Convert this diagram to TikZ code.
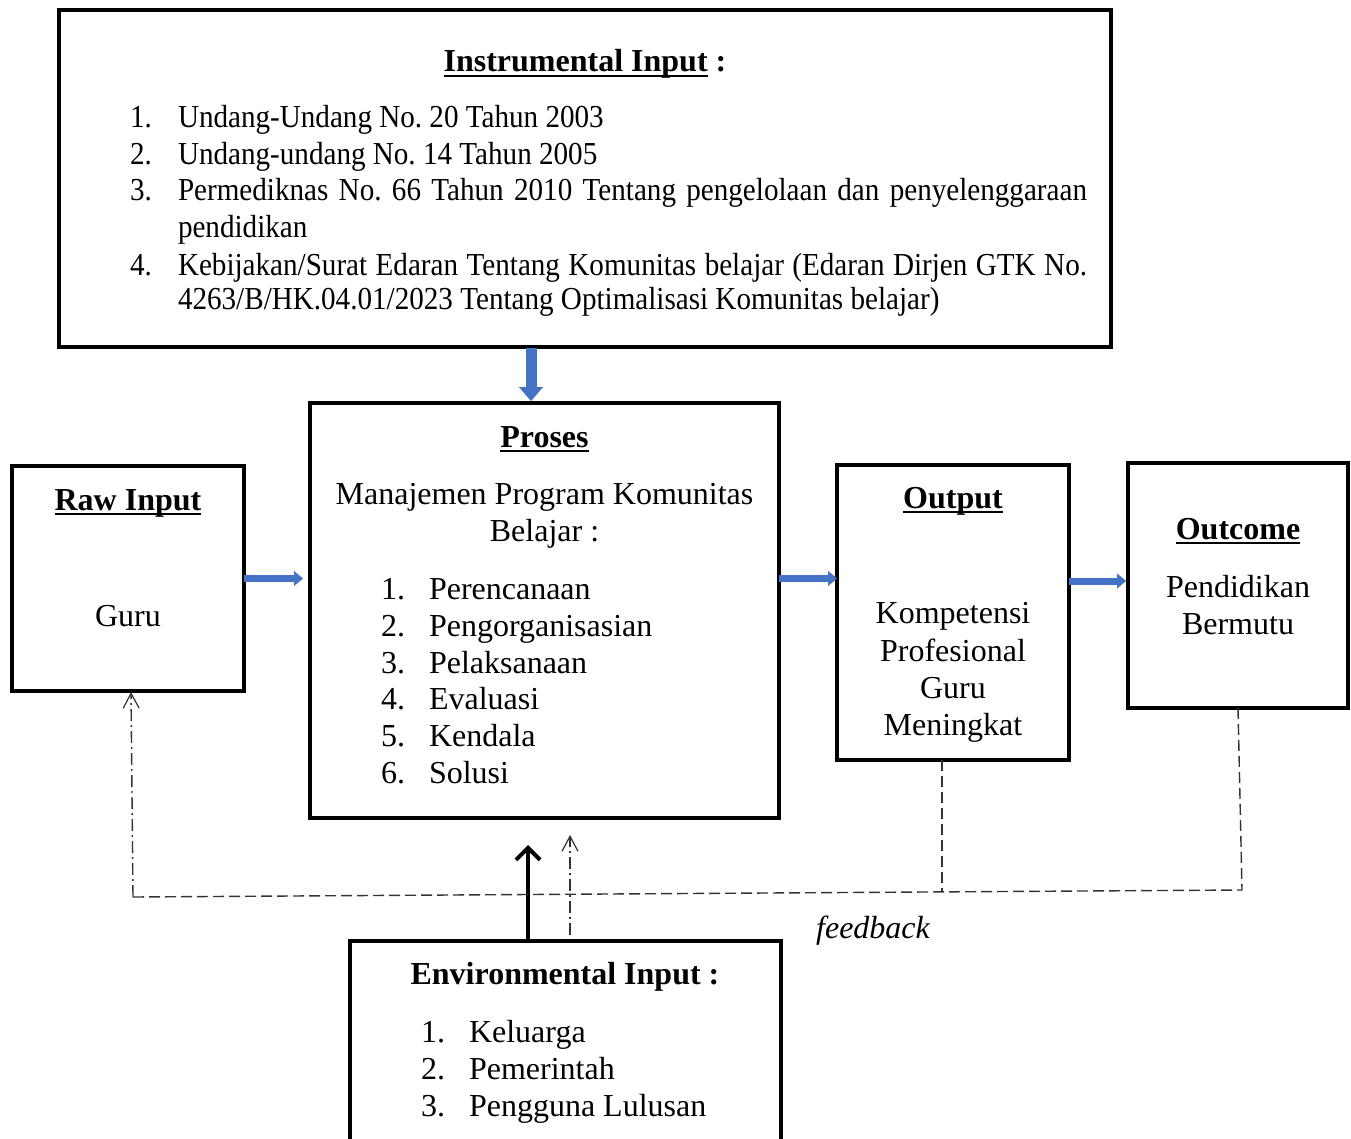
\documentclass[tikz,border=0pt]{standalone}
\usepackage{fontspec}
\setmainfont{Liberation Serif}
\newfontfamily\condfont{Liberation Serif}[FakeStretch=0.91]
\newcommand{\myul}[1]{\setbox0\hbox{#1}\rlap{\rule[-5pt]{\wd0}{2pt}}\box0}
\frenchspacing
\usetikzlibrary{arrows.meta,calc}
\definecolor{arrblue}{HTML}{4472C4}
\definecolor{fbgray}{HTML}{333333}
\tikzset{
  box/.style={draw=black, line width=4pt, inner sep=0pt, outer sep=0pt},
  txt/.style={inner sep=0pt, outer sep=0pt, font=\fontsize{32}{37}\selectfont\frenchspacing},
  ctxt/.style={txt, anchor=base},
  ltxt/.style={txt, anchor=base west},
  itxt/.style={inner sep=0pt, outer sep=0pt, anchor=base west, font=\fontsize{32}{37}\selectfont\condfont\frenchspacing},
  bigblue/.style={draw=arrblue, line width=11pt, -{Triangle[length=14pt, width=24pt, line width=0.1pt]}},
  smallblue/.style={draw=arrblue, line width=7pt, -{Triangle[length=9pt, width=15pt, line width=0.1pt]}},
  blackarrow/.style={draw=black, line width=4pt, -{Straight Barb[length=12pt, width=24pt]}},
  fbdash/.style={draw=fbgray, line width=1.4pt, dash pattern=on 11pt off 5pt},
  fbdashdot/.style={draw=fbgray, line width=1.4pt, dash pattern=on 12pt off 4pt on 2pt off 4pt},
  openhead/.style={-{Straight Barb[length=15pt, width=16pt, line width=1.2pt]}}
}
\begin{document}
\begin{tikzpicture}[x=1pt,y=-1pt]
\useasboundingbox (0,0) rectangle (1351,1139);
% boxes
\node[box, minimum width=1052pt, minimum height=337pt] (instr) at (585,178.5) {};
\node[box, minimum width=469pt, minimum height=415pt] (proses) at (544.5,610.5) {};
\node[box, minimum width=232pt, minimum height=225pt] (raw) at (128,578.5) {};
\node[box, minimum width=232pt, minimum height=295pt] (output) at (953,612.5) {};
\node[box, minimum width=220pt, minimum height=245pt] (outcome) at (1238,585.5) {};
\node[box, minimum width=431pt, minimum height=208pt] (env) at (565.5,1045) {};
% instrumental text
\node[ctxt] (instrh) at (585,72) {\textbf{\myul{Instrumental Input}} \textbf{:}};
\node[itxt] (i1n) at (130,128) {1.};
\node[itxt] (i1t) at (178,128) {Undang-Undang No. 20 Tahun 2003};
\node[itxt] (i2n) at (130,165) {2.};
\node[itxt] (i2t) at (178,165) {Undang-undang No. 14 Tahun 2005};
\node[itxt] (i3n) at (130,201) {3.};
\node[itxt] (i3t) at (178,201) {\makebox[909pt][s]{Permediknas No. 66 Tahun 2010 Tentang pengelolaan dan penyelenggaraan}};
\node[itxt] (i3u) at (178,238) {pendidikan};
\node[itxt] (i4n) at (130,276) {4.};
\node[itxt] (i4t) at (178,276) {\makebox[909pt][s]{Kebijakan/Surat Edaran Tentang Komunitas belajar (Edaran Dirjen GTK No.}};
\node[itxt] (i4u) at (178,310) {4263/B/HK.04.01/2023 Tentang Optimalisasi Komunitas belajar)};
% proses text
\node[ctxt] (prosh) at (544.5,447) {\textbf{\myul{Proses}}};
\node[ctxt] (pros1) at (544.5,504) {Manajemen Program Komunitas};
\node[ctxt] (pros2) at (544.5,541) {Belajar :};
\node[ltxt] (p1n) at (381,599) {1.};
\node[ltxt] (p1t) at (429,599) {Perencanaan};
\node[ltxt] (p2n) at (381,636) {2.};
\node[ltxt] (p2t) at (429,636) {Pengorganisasian};
\node[ltxt] (p3n) at (381,673) {3.};
\node[ltxt] (p3t) at (429,673) {Pelaksanaan};
\node[ltxt] (p4n) at (381,709) {4.};
\node[ltxt] (p4t) at (429,709) {Evaluasi};
\node[ltxt] (p5n) at (381,746) {5.};
\node[ltxt] (p5t) at (429,746) {Kendala};
\node[ltxt] (p6n) at (381,783) {6.};
\node[ltxt] (p6t) at (429,783) {Solusi};
% raw input
\node[ctxt] (rawh) at (128,510) {\textbf{\myul{Raw Input}}};
\node[ctxt] (rawt) at (128,626) {Guru};
% output
\node[ctxt] (outh) at (953,508) {\textbf{\myul{Output}}};
\node[ctxt] (out1) at (953,623) {Kompetensi};
\node[ctxt] (out2) at (953,661) {Profesional};
\node[ctxt] (out3) at (953,698) {Guru};
\node[ctxt] (out4) at (953,735) {Meningkat};
% outcome
\node[ctxt] (outch) at (1238,539) {\textbf{\myul{Outcome}}};
\node[ctxt] (outc1) at (1238,597) {Pendidikan};
\node[ctxt] (outc2) at (1238,634) {Bermutu};
% environmental
\node[ctxt] (envh) at (565,984) {\textbf{Environmental Input :}};
\node[ltxt] (e1n) at (421,1042) {1.};
\node[ltxt] (e1t) at (469,1042) {Keluarga};
\node[ltxt] (e2n) at (421,1079) {2.};
\node[ltxt] (e2t) at (469,1079) {Pemerintah};
\node[ltxt] (e3n) at (421,1116) {3.};
\node[ltxt] (e3t) at (469,1116) {Pengguna Lulusan};
% feedback label
\node[ctxt, font=\fontsize{32}{37}\selectfont\itshape] (fbl) at (873,938) {feedback};
% blue arrows
\draw[bigblue, shorten <=1pt, shorten >=2pt] ([xshift=-54pt]instr.south) -- ([xshift=-13.5pt]proses.north);
\draw[smallblue, shorten >=7pt] (raw.east) -- (raw.east -| proses.west);
\draw[smallblue, shorten >=0pt] (proses.east |- raw.east) -- (output.west |- raw.east);
\draw[smallblue, shorten >=2pt] ([yshift=4.5pt]output.east |- outcome.west) -- ([yshift=4.5pt]outcome.west);
% black arrow from environmental
\draw[blackarrow, shorten >=27pt] ([xshift=-37.5pt]env.north) -- ([xshift=-16.5pt]proses.south);
% dash-dot arrow from environmental
\draw[fbdashdot, openhead, shorten <=6pt, shorten >=17pt] ([xshift=4.5pt]env.north) -- ([xshift=25.5pt]proses.south);
% feedback loop
\coordinate (fbO) at (942,892);
\coordinate (fbR) at (1242,890);
\coordinate (fbL) at (133,897);
\draw[fbdash] ([xshift=-11pt]output.south) -- (fbO);
\draw[fbdash] (outcome.south) -- (fbR) -- (fbL);
\draw[fbdashdot, openhead, shorten >=1pt] (fbL) -- ([xshift=3pt]raw.south);
\end{tikzpicture}
\end{document}
